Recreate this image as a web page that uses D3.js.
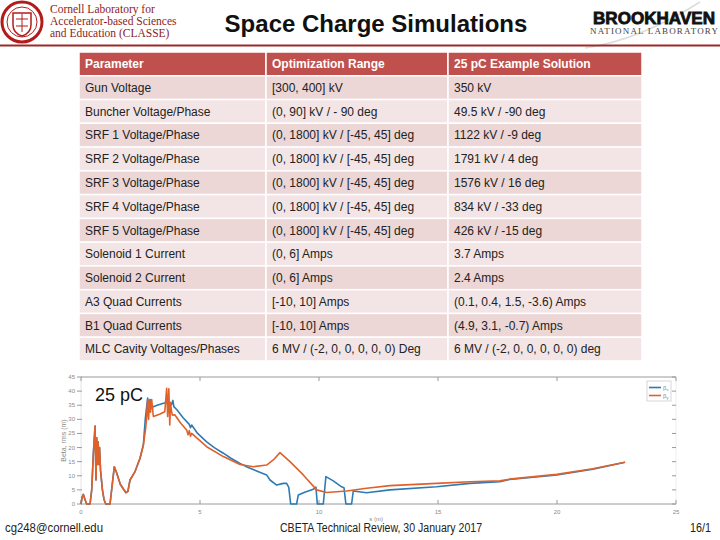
<!DOCTYPE html>
<html><head><meta charset="utf-8">
<script src="https://cdn.jsdelivr.net/npm/d3@7"></script>
<style>body{margin:0;background:#fff}svg{display:block}</style>
</head><body>
<svg id="c" width="720" height="540"></svg>
<script>
// ---------- DATA ----------
const headers = ["Parameter", "Optimization Range", "25 pC Example Solution"];
const parameters = ["Gun Voltage","Buncher Voltage/Phase","SRF 1 Voltage/Phase","SRF 2 Voltage/Phase","SRF 3 Voltage/Phase","SRF 4 Voltage/Phase","SRF 5 Voltage/Phase","Solenoid 1 Current","Solenoid 2 Current","A3 Quad Currents","B1 Quad Currents","MLC Cavity Voltages/Phases"];
const ranges = ["[300, 400] kV","(0, 90] kV / - 90 deg","(0, 1800] kV / [-45, 45] deg","(0, 1800] kV / [-45, 45] deg","(0, 1800] kV / [-45, 45] deg","(0, 1800] kV / [-45, 45] deg","(0, 1800] kV / [-45, 45] deg","(0, 6] Amps","(0, 6] Amps","[-10, 10] Amps","[-10, 10] Amps","6 MV / (-2, 0, 0, 0, 0, 0) Deg"];
const solutions = ["350 kV","49.5 kV / -90 deg","1122 kV / -9 deg","1791 kV / 4 deg","1576 kV / 16 deg","834 kV / -33 deg","426 kV / -15 deg","3.7 Amps","2.4 Amps","(0.1, 0.4, 1.5, -3.6) Amps","(4.9, 3.1, -0.7) Amps","6 MV / (-2, 0, 0, 0, 0, 0) deg"];

const earlyS    = [0,0.05,0.1,0.17,0.24,0.38,0.45,0.52,0.59,0.63,0.66,0.69,0.72,0.75,0.78,0.82,0.9,0.97,1.04,1.22,1.3,1.4,1.5,1.65,1.78,1.89,1.97,2.06,2.27,2.48,2.62];
const earlyBeta = [0,2.5,3.4,1.5,0,0,5,18,27.6,8.5,23.5,14,22,14,20,12,5,1.5,0,0,6,13.2,11,7,5.3,4,4.5,8.5,11.5,16.2,20.9];

const sX    = [2.7,2.8,2.85,2.9,2.95,3.04,3.2,3.46,3.67,3.8,3.86,3.9,4.02,4.3,4.55,4.6,4.65,4.9,5.28,5.6,5.98,6.3,6.68,7.0,7.38,7.8,7.94,8.22,8.5,8.64,8.73,8.81,9.06,9.13,9.4,9.76,9.87,9.93,10.18,10.29,10.6,10.95,11.05,11.13,11.37,11.44,12.0,12.98,14.94,16.34,17.6,18.0,19.99,21.5,22.86];
const betaX = [30,37.5,35,37,34,34.5,35,35.7,36,35.2,36.7,34.5,33.5,30.5,28.2,27,28,25,22,20,18,16.2,14.4,13,11.7,10.3,8.5,6.7,7.3,7.3,5.9,0,0,3.2,4.2,5.2,6.0,0,0,9.7,8.2,6.1,5.8,0,0,4.6,4.0,5.0,6.1,7.3,7.9,8.7,10.3,12.3,14.8];

const sY    = [2.72,2.76,2.8,2.84,2.88,2.92,2.97,3.04,3.3,3.52,3.6,3.64,3.69,3.73,3.76,3.8,3.84,3.94,4.2,4.44,4.5,4.55,4.6,4.65,5.28,5.98,6.68,7.24,7.8,8.08,8.36,8.78,9.34,9.9,10.32,11.16,12.0,12.98,14.94,16.34,17.6,18.0,19.99,21.5,22.86];
const betaY = [27,31,37,30,37,32.5,37,31,31.8,32.7,41,31,40.8,28,36,33,31.5,31.6,28.5,26.2,24.5,26,24,25,20.3,16.8,14.0,13.2,13.8,15.6,18.2,15,10.3,5.0,4.1,4.6,5.6,6.5,7.3,7.9,8.2,8.8,10.5,12.5,14.8];

const xTicks = [0,5,10,15,20,25];
const yTicks = [0,5,10,15,20,25,30,35,40,45];

// ---------- DRAW ----------
const svg = d3.select("#c");
const SANS = "'Liberation Sans', Arial, sans-serif";
const SERIF = "'Liberation Serif', 'Times New Roman', serif";

// Cornell logo
const seal = svg.append("g").attr("transform","translate(22,22)");
seal.append("circle").attr("r",20).attr("fill","none").attr("stroke","#b31b1b").attr("stroke-width",3);
seal.append("circle").attr("r",15).attr("fill","none").attr("stroke","#b31b1b").attr("stroke-width",1);
seal.append("path").attr("d","M-9,-9 L9,-9 L9,3 Q9,11 0,14 Q-9,11 -9,3 Z").attr("fill","none").attr("stroke","#b31b1b").attr("stroke-width",1.5);
seal.append("path").attr("d","M-6,-3 L6,-3 M0,-8 L0,10 M-6,4 L6,4").attr("stroke","#b31b1b").attr("stroke-width",1);
const cornellLines = ["Cornell Laboratory for","Accelerator-based Sciences","and Education (CLASSE)"];
svg.selectAll("text.cl").data(cornellLines).join("text").attr("class","cl")
  .attr("x",50).attr("y",(d,i)=>13+i*12).attr("font-family",SERIF).attr("font-size",11.5)
  .attr("fill","#8b1c1c").text(d=>d);

// Brookhaven logo
svg.append("path").attr("d","M585,48 Q640,40 700,2").attr("fill","none").attr("stroke","#ddd").attr("stroke-width",1.5);
svg.append("text").attr("x",593).attr("y",24).attr("font-family",SANS).attr("font-weight","bold")
  .attr("font-size",16.5).attr("textLength",122).attr("lengthAdjust","spacingAndGlyphs")
  .attr("fill","#111").attr("stroke","#111").attr("stroke-width",0.8).text("BROOKHAVEN");
svg.append("text").attr("x",590).attr("y",34).attr("font-family",SERIF)
  .attr("font-size",9).attr("textLength",128).attr("lengthAdjust","spacing").attr("fill","#444").text("NATIONAL LABORATORY");

// red rule
svg.append("line").attr("x1",0).attr("x2",720).attr("y1",45.5).attr("y2",45.5).attr("stroke","#9b2a2a").attr("stroke-width",2);

// title
svg.append("text").attr("x",376).attr("y",32).attr("text-anchor","middle").attr("font-family",SANS)
  .attr("font-weight","bold").attr("font-size",24).attr("fill","#111").text("Space Charge Simulations");

// ---------- TABLE ----------
const rowKeys = ["header"].concat(parameters);
const rowScale = d3.scaleBand().domain(rowKeys).range([52,361]).padding(0);
const colEdges = [79,266,448,642];
const colScale = d3.scaleOrdinal().domain([0,1,2]).range([0,1,2]);
const tableRows = [headers].concat(parameters.map((p,i)=>[p,ranges[i],solutions[i]]));
const tg = svg.append("g");
tableRows.forEach((row,ri)=>{
  const key = rowKeys[ri];
  const y0 = rowScale(key), h = rowScale.bandwidth();
  row.forEach((txt,ci)=>{
    const c = colScale(ci);
    const x0 = colEdges[c], x1 = colEdges[c+1];
    const fill = ri===0 ? "#c0504d" : (ri%2===1 ? "#ecd6d6" : "#f3e5e5");
    tg.append("rect").attr("x",x0).attr("y",y0).attr("width",x1-x0).attr("height",h)
      .attr("fill",fill).attr("stroke","#fff").attr("stroke-width",1.5);
    tg.append("text").attr("x",x0+6).attr("y",y0+h/2+4.3).attr("font-family",SANS)
      .attr("font-size",12).attr("font-weight",ri===0?"bold":"normal")
      .attr("fill",ri===0?"#fff":"#222").text(txt);
  });
});

// ---------- CHART ----------
const x = d3.scaleLinear().domain([0,25]).range([81,676]);
const y = d3.scaleLinear().domain([0,45]).range([504,377]);
const cg = svg.append("g");
const axisCol = "#9a9a9a", labCol = "#8a8a8a";
cg.append("line").attr("x1",x(0)).attr("x2",x(25)).attr("y1",y(0)).attr("y2",y(0)).attr("stroke",axisCol).attr("stroke-width",1);
cg.append("line").attr("x1",x(0)).attr("x2",x(25)).attr("y1",y(45)).attr("y2",y(45)).attr("stroke",axisCol).attr("stroke-width",1);
cg.append("line").attr("x1",x(0)).attr("x2",x(0)).attr("y1",y(0)).attr("y2",y(45)).attr("stroke","#e4e4e4").attr("stroke-width",1);
cg.append("line").attr("x1",x(25)).attr("x2",x(25)).attr("y1",y(0)).attr("y2",y(45)).attr("stroke","#eeeeee").attr("stroke-width",1);
// x ticks
xTicks.forEach(t=>{
  cg.append("line").attr("x1",x(t)).attr("x2",x(t)).attr("y1",y(0)).attr("y2",y(0)-4).attr("stroke",axisCol);
  cg.append("line").attr("x1",x(t)).attr("x2",x(t)).attr("y1",y(45)).attr("y2",y(45)+4).attr("stroke",axisCol);
  cg.append("text").attr("x",x(t)).attr("y",y(0)+10).attr("text-anchor","middle").attr("font-family",SANS)
    .attr("font-size",6).attr("fill",labCol).text(t);
});
// y ticks
yTicks.forEach(t=>{
  cg.append("line").attr("x1",x(0)-4).attr("x2",x(0)+1).attr("y1",y(t)).attr("y2",y(t)).attr("stroke",axisCol);
  cg.append("line").attr("x1",x(25)-4).attr("x2",x(25)).attr("y1",y(t)).attr("y2",y(t)).attr("stroke",axisCol);
  cg.append("text").attr("x",x(0)-6).attr("y",y(t)+2).attr("text-anchor","end").attr("font-family",SANS)
    .attr("font-size",6).attr("fill",labCol).text(t);
});
cg.append("text").attr("transform",`translate(66,${y(22.5)}) rotate(-90)`).attr("text-anchor","middle")
  .attr("font-family",SANS).attr("font-size",7).attr("fill",labCol).text("Beta, rms (m)");
cg.append("text").attr("x",x(12.4)).attr("y",521).attr("text-anchor","middle")
  .attr("font-family",SANS).attr("font-size",6).attr("fill",labCol).text("s (m)");

const line = d3.line().x(d=>x(d[0])).y(d=>y(d[1]));
const early = earlyS.map((s,i)=>[s,earlyBeta[i]]);
const dataX = early.concat(sX.map((s,i)=>[s,betaX[i]]));
const dataY = early.concat(sY.map((s,i)=>[s,betaY[i]]));
cg.append("path").datum(dataX).attr("d",line).attr("fill","none").attr("stroke","#2c7bb6").attr("stroke-width",1.6).attr("stroke-linejoin","round");
cg.append("path").datum(dataY).attr("d",line).attr("fill","none").attr("stroke","#e0602a").attr("stroke-width",1.6).attr("stroke-linejoin","round");

// legend
const lg = cg.append("g");
lg.append("rect").attr("x",647).attr("y",381).attr("width",24).attr("height",20).attr("fill","#fff").attr("stroke","#ccc").attr("stroke-width",0.8);
[["#2c7bb6","x"],["#e0602a","y"]].forEach((d,i)=>{
  const yy = 387.5 + i*8;
  lg.append("line").attr("x1",649).attr("x2",661).attr("y1",yy).attr("y2",yy).attr("stroke",d[0]).attr("stroke-width",1.6);
  const t = lg.append("text").attr("x",663).attr("y",yy+2).attr("font-family",SANS).attr("font-size",6).attr("fill","#888");
  t.append("tspan").text("β");
  t.append("tspan").attr("font-size",4).attr("dy",1.5).text(d[1]);
});

// 25 pC label
svg.append("text").attr("x",95).attr("y",401).attr("font-family",SANS).attr("font-size",18).attr("fill","#111").text("25 pC");

// footer
svg.append("text").attr("x",5).attr("y",532).attr("font-family","'Liberation Sans Narrow', 'Liberation Sans', sans-serif")
  .attr("font-size",12).attr("textLength",98).attr("lengthAdjust","spacingAndGlyphs").attr("fill","#222").text("cg248@cornell.edu");
svg.append("text").attr("x",280).attr("y",532).attr("font-family","'Liberation Sans Narrow', 'Liberation Sans', sans-serif")
  .attr("font-size",12).attr("textLength",202).attr("lengthAdjust","spacingAndGlyphs").attr("fill","#222").text("CBETA Technical Review, 30 January 2017");
svg.append("text").attr("x",690).attr("y",532).attr("font-family","'Liberation Sans Narrow', 'Liberation Sans', sans-serif")
  .attr("font-size",12).attr("textLength",21).attr("lengthAdjust","spacingAndGlyphs").attr("fill","#222").text("16/1");
</script>
</body></html>
